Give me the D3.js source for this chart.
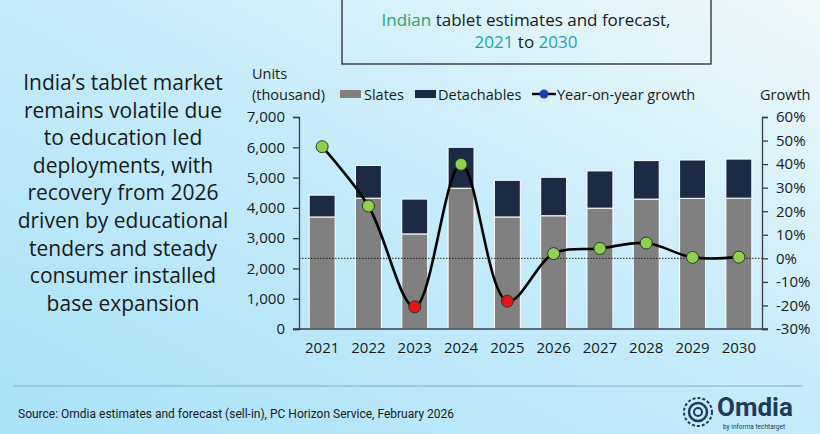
<!DOCTYPE html>
<html>
<head>
<meta charset="utf-8">
<script src="https://cdn.jsdelivr.net/npm/d3@7"></script>
<style>
  body { margin: 0; }
  svg { display: block; font-family: "Open Sans", sans-serif; }
</style>
</head>
<body>
<svg id="svg" width="820" height="434"></svg>
<script>
const years = ['2021', '2022', '2023', '2024', '2025', '2026', '2027', '2028', '2029', '2030']
const slates = [3700, 4320, 3140, 4650, 3700, 3740, 3990, 4290, 4315, 4320]
const detachables = [720, 1080, 1150, 1350, 1210, 1270, 1230, 1270, 1265, 1290]
const growth = [47.4, 22.2, -20.6, 39.9, -18.2, 2.0, 4.2, 6.5, 0.4, 0.5]
const unitTicks = [0, 1000, 2000, 3000, 4000, 5000, 6000, 7000]
const growthTicks = [-30, -20, -10, 0, 10, 20, 30, 40, 50, 60]
const noteLines = ['India\u2019s tablet market', 'remains volatile due', 'to education led',
  'deployments, with', 'recovery from 2026', 'driven by educational',
  'tenders and steady', 'consumer installed', 'base expansion']

const svg = d3.select('#svg')

// background
const defs = svg.append('defs')
const grad = defs.append('linearGradient').attr('id', 'bg')
  .attr('x1', 0).attr('y1', 1).attr('x2', 1).attr('y2', 0)
grad.append('stop').attr('offset', '0%').attr('stop-color', '#a9e2f8')
grad.append('stop').attr('offset', '55%').attr('stop-color', '#c6ecf9')
grad.append('stop').attr('offset', '100%').attr('stop-color', '#f1f8fa')
svg.append('rect').attr('width', 820).attr('height', 434).attr('fill', 'url(#bg)')

// title box
svg.append('rect').attr('x', 342).attr('y', -2).attr('width', 369).attr('height', 66)
  .attr('fill', 'none').attr('stroke', '#1a1a1a').attr('stroke-width', 1.2)
const t1 = svg.append('text').attr('x', 526).attr('y', 26).attr('text-anchor', 'middle')
  .attr('font-size', 17).attr('fill', '#1a1a1a')
t1.append('tspan').attr('fill', '#2aa46c').text('Indian')
t1.append('tspan').text(' tablet estimates and forecast,')
const t2 = svg.append('text').attr('x', 526).attr('y', 48).attr('text-anchor', 'middle')
  .attr('font-size', 17).attr('fill', '#1a1a1a')
t2.append('tspan').attr('fill', '#1ba3ad').text('2021')
t2.append('tspan').text(' to ')
t2.append('tspan').attr('fill', '#1ba3ad').text('2030')

// left note
svg.append('g').selectAll('text').data(noteLines).enter().append('text')
  .attr('x', 123).attr('y', (d, i) => 90 + i * 27.6)
  .attr('text-anchor', 'middle').attr('font-size', 21).attr('fill', '#1a1a1a')
  .text(d => d)

// scales
const x = d3.scaleBand().domain(years).range([299, 762]).paddingInner(0.44).paddingOuter(0.22)
const y = d3.scaleLinear().domain([0, 7000]).range([329, 117])
const y2 = d3.scaleLinear().domain([-30, 60]).range([329, 117])

// bars
const stacked = years.map((yr, i) => ({ yr, s: slates[i], d: detachables[i] }))
const bars = svg.append('g')
bars.selectAll('.slate').data(stacked).enter().append('rect')
  .attr('x', d => x(d.yr)).attr('width', x.bandwidth())
  .attr('y', d => y(d.s)).attr('height', d => y(0) - y(d.s))
  .attr('fill', '#808080').attr('stroke', '#ffffff').attr('stroke-width', 1)
bars.selectAll('.det').data(stacked).enter().append('rect')
  .attr('x', d => x(d.yr)).attr('width', x.bandwidth())
  .attr('y', d => y(d.s + d.d)).attr('height', d => y(d.s) - y(d.s + d.d))
  .attr('fill', '#1c2a44').attr('stroke', '#ffffff').attr('stroke-width', 1)

// zero growth line
svg.append('line').attr('x1', 299).attr('x2', 762).attr('y1', y2(0)).attr('y2', y2(0))
  .attr('stroke', '#222').attr('stroke-width', 1).attr('stroke-dasharray', '1.5,1.5')

// axes
const axL = svg.append('g').attr('transform', 'translate(299,0)')
  .call(d3.axisLeft(y).tickValues(unitTicks).tickFormat(d3.format(',')).tickSize(6).tickPadding(8))
const axR = svg.append('g').attr('transform', 'translate(762,0)')
  .call(d3.axisRight(y2).tickValues(growthTicks).tickFormat(d => (d < 0 ? '-' + Math.abs(d) : d) + '%').tickSize(6).tickPadding(8))
const axB = svg.append('g').attr('transform', 'translate(0,329)')
  .call(d3.axisBottom(x).tickSize(0).tickPadding(13))
;[axL, axR, axB].forEach(a => {
  a.selectAll('text').attr('font-size', 15).attr('fill', '#1a1a1a').attr('font-family', '"Open Sans", sans-serif')
  a.selectAll('path,line').attr('stroke', '#3a3f47').attr('stroke-width', 1.3)
})
axB.select('.domain').attr('d', 'M293,0H768')

// growth line
const pts = years.map((yr, i) => [x(yr) + x.bandwidth() / 2, y2(growth[i]), growth[i]])
svg.append('path').datum(pts)
  .attr('d', d3.line().curve(d3.curveCatmullRom.alpha(0.5)))
  .attr('fill', 'none').attr('stroke', '#000').attr('stroke-width', 2.6)
svg.append('g').selectAll('circle').data(pts).enter().append('circle')
  .attr('cx', d => d[0]).attr('cy', d => d[1]).attr('r', 6)
  .attr('fill', d => d[2] < 0 ? '#e8141a' : '#8fd14f')
  .attr('stroke', '#2a3a20').attr('stroke-width', 1)

// axis titles and legend
const lab = (tx, xx, yy) => svg.append('text').attr('x', xx).attr('y', yy)
  .attr('font-size', 14.5).attr('fill', '#1a1a1a').text(tx)
lab('Units', 252, 79)
lab('(thousand)', 252, 100)
lab('Growth', 760, 100)
svg.append('rect').attr('x', 340).attr('y', 90).attr('width', 21).attr('height', 8).attr('fill', '#808080')
lab('Slates', 364, 100)
svg.append('rect').attr('x', 415).attr('y', 90).attr('width', 21).attr('height', 8).attr('fill', '#1c2a44')
lab('Detachables', 438, 100)
svg.append('line').attr('x1', 532).attr('x2', 556).attr('y1', 94).attr('y2', 94)
  .attr('stroke', '#000').attr('stroke-width', 2.4)
svg.append('circle').attr('cx', 544).attr('cy', 94).attr('r', 4.5).attr('fill', '#1a3fa8')
lab('Year-on-year growth', 557, 100)

// footer
svg.append('line').attr('x1', 13).attr('x2', 803).attr('y1', 386).attr('y2', 386)
  .attr('stroke', '#7fb2c6').attr('stroke-width', 1)
svg.append('text').attr('x', 18).attr('y', 418).attr('font-size', 12).attr('fill', '#1a1a1a')
  .attr('font-family', 'Roboto, sans-serif').text('Source: Omdia estimates and forecast (sell-in), PC Horizon Service, February 2026')

// logo
const logo = svg.append('g').attr('transform', 'translate(698,412)')
logo.append('circle').attr('r', 14).attr('fill', 'none').attr('stroke', '#1f3a5c').attr('stroke-width', 2)
  .attr('stroke-dasharray', '3,2')
logo.append('circle').attr('r', 9).attr('fill', 'none').attr('stroke', '#1f3a5c').attr('stroke-width', 2.5)
logo.append('circle').attr('r', 4).attr('fill', 'none').attr('stroke', '#1f3a5c').attr('stroke-width', 2)
svg.append('text').attr('x', 717).attr('y', 416).attr('font-size', 26).attr('font-weight', 'bold')
  .attr('fill', '#1f3a5c').attr('font-family', 'Roboto, sans-serif').text('Omdia')
svg.append('text').attr('x', 723).attr('y', 429).attr('font-size', 6.5).attr('fill', '#1f3a5c')
  .attr('font-family', 'Roboto, sans-serif').text('by informa techtarget')
</script>
</body>
</html>
